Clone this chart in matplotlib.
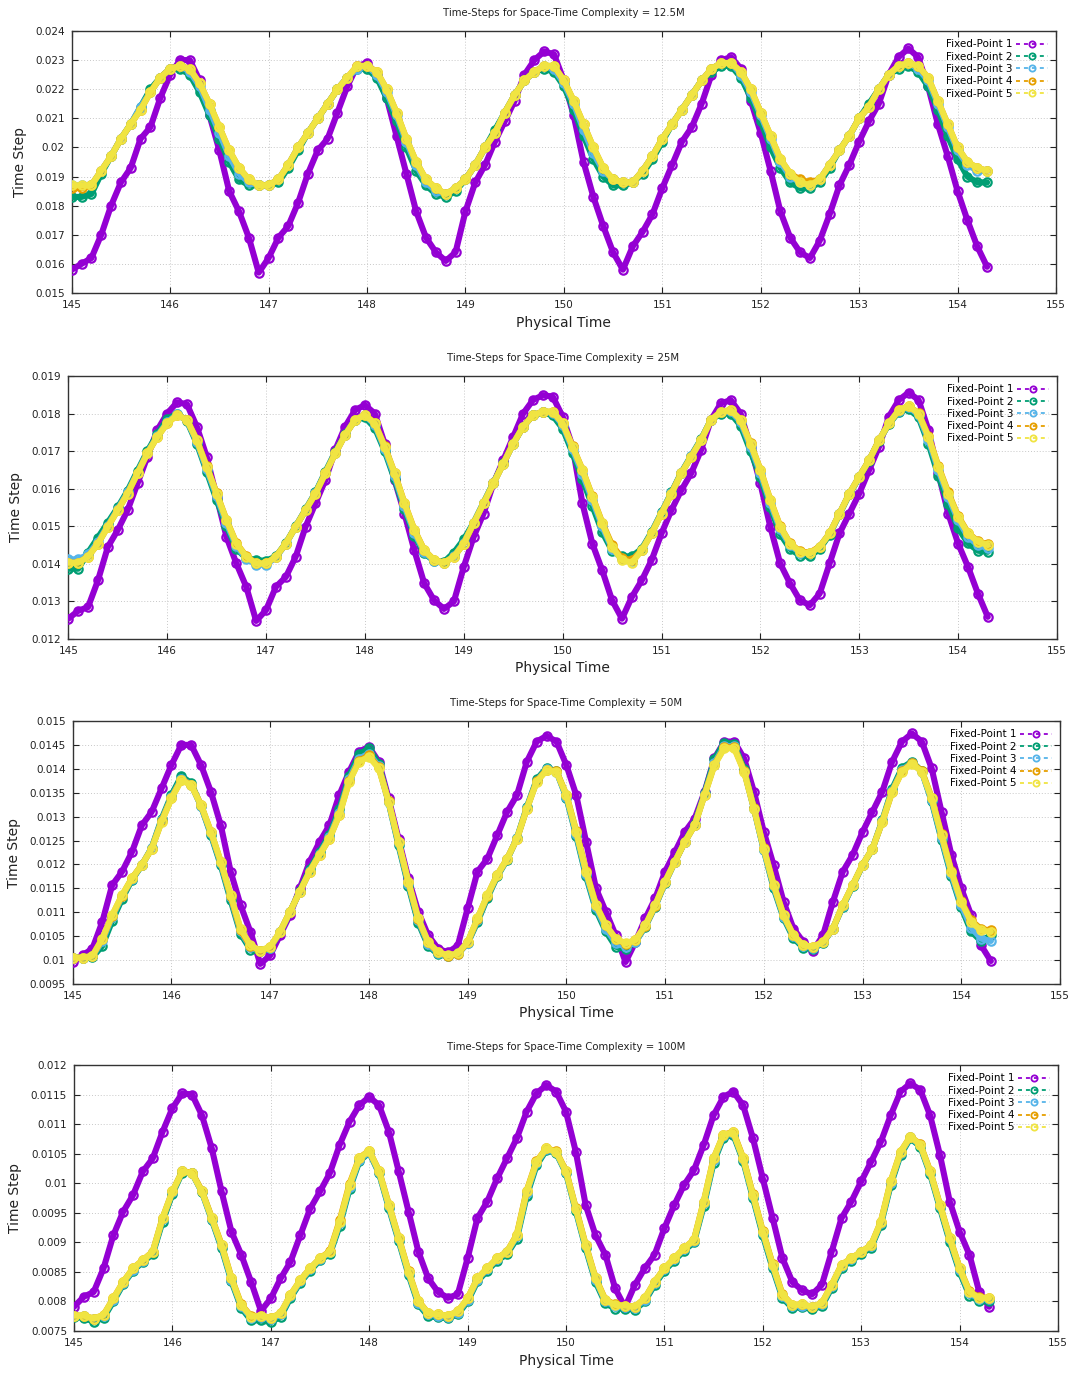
import matplotlib
matplotlib.use("Agg")
import matplotlib.pyplot as plt
from matplotlib.lines import Line2D
from matplotlib.ticker import FuncFormatter, MultipleLocator

# ---------------- data ----------------
TIME = [
    145.0, 145.1, 145.2, 145.3, 145.4, 145.5, 145.6, 145.7, 145.8, 145.9,
    146.0, 146.1, 146.2, 146.3, 146.4, 146.5, 146.6, 146.7, 146.8, 146.9,
    147.0, 147.1, 147.2, 147.3, 147.4, 147.5, 147.6, 147.7, 147.8, 147.9,
    148.0, 148.1, 148.2, 148.3, 148.4, 148.5, 148.6, 148.7, 148.8, 148.9,
    149.0, 149.1, 149.2, 149.3, 149.4, 149.5, 149.6, 149.7, 149.8, 149.9,
    150.0, 150.1, 150.2, 150.3, 150.4, 150.5, 150.6, 150.7, 150.8, 150.9,
    151.0, 151.1, 151.2, 151.3, 151.4, 151.5, 151.6, 151.7, 151.8, 151.9,
    152.0, 152.1, 152.2, 152.3, 152.4, 152.5, 152.6, 152.7, 152.8, 152.9,
    153.0, 153.1, 153.2, 153.3, 153.4, 153.5, 153.6, 153.7, 153.8, 153.9,
    154.0, 154.1, 154.2, 154.3,
]

SERIES_LABELS = ["Fixed-Point 1", "Fixed-Point 2", "Fixed-Point 3", "Fixed-Point 4", "Fixed-Point 5"]
PANEL_TITLES = [
    "Time-Steps for Space-Time Complexity = 12.5M",
    "Time-Steps for Space-Time Complexity = 25M",
    "Time-Steps for Space-Time Complexity = 50M",
    "Time-Steps for Space-Time Complexity = 100M",
]
X_TICKS = [145, 146, 147, 148, 149, 150, 151, 152, 153, 154, 155]

# ---- 12.5M ----
C12_FP1 = [
    0.0158, 0.0160, 0.0162, 0.0170, 0.0180, 0.0188, 0.0193, 0.0203, 0.0207, 0.0217,
    0.0225, 0.0230, 0.0230, 0.0223, 0.0211, 0.0199, 0.0185, 0.0178, 0.0169, 0.0157,
    0.0162, 0.0169, 0.0173, 0.0181, 0.0191, 0.0199, 0.0203, 0.0212, 0.0221, 0.0228,
    0.0229, 0.0225, 0.0217, 0.0204, 0.0191, 0.0178, 0.0169, 0.0164, 0.0161, 0.0164,
    0.0178, 0.0188, 0.0194, 0.0202, 0.0209, 0.0216, 0.0225, 0.0230, 0.0233, 0.0232,
    0.0223, 0.0211, 0.0195, 0.0183, 0.0173, 0.0164, 0.0158, 0.0166, 0.0171, 0.0177,
    0.0186, 0.0194, 0.0202, 0.0207, 0.0215, 0.0225, 0.0230, 0.0231, 0.0227, 0.0216,
    0.0205, 0.0192, 0.0178, 0.0169, 0.0164, 0.0162, 0.0168, 0.0177, 0.0187, 0.0194,
    0.0202, 0.0209, 0.0215, 0.0225, 0.0231, 0.0234, 0.0231, 0.0221, 0.0208, 0.0197,
    0.0185, 0.0175, 0.0166, 0.0159,
]
C12_FP2 = [
    0.0183, 0.0183, 0.0184, 0.0191, 0.0197, 0.0203, 0.0208, 0.0214, 0.0220, 0.0224,
    0.0227, 0.0227, 0.0225, 0.0219, 0.0211, 0.0203, 0.0195, 0.0189, 0.0187, 0.0187,
    0.0187, 0.0188, 0.0193, 0.0199, 0.0205, 0.0210, 0.0215, 0.0220, 0.0224, 0.0227,
    0.0227, 0.0224, 0.0217, 0.0209, 0.0200, 0.0192, 0.0187, 0.0184, 0.0183, 0.0185,
    0.0189, 0.0194, 0.0200, 0.0206, 0.0212, 0.0218, 0.0223, 0.0226, 0.0227, 0.0226,
    0.0221, 0.0213, 0.0204, 0.0196, 0.0190, 0.0187, 0.0187, 0.0188, 0.0191, 0.0196,
    0.0202, 0.0208, 0.0213, 0.0218, 0.0223, 0.0226, 0.0228, 0.0228, 0.0224, 0.0217,
    0.0209, 0.0200, 0.0193, 0.0188, 0.0186, 0.0186, 0.0188, 0.0193, 0.0199, 0.0204,
    0.0210, 0.0215, 0.0220, 0.0225, 0.0227, 0.0228, 0.0226, 0.0221, 0.0213, 0.0204,
    0.0196, 0.0190, 0.0188, 0.0188,
]
C12_FP3 = [
    0.0187, 0.0187, 0.0187, 0.0192, 0.0197, 0.0203, 0.0208, 0.0214, 0.0219, 0.0224,
    0.0227, 0.0228, 0.0226, 0.0221, 0.0213, 0.0205, 0.0197, 0.0191, 0.0188, 0.0187,
    0.0187, 0.0189, 0.0194, 0.0200, 0.0205, 0.0210, 0.0215, 0.0220, 0.0224, 0.0227,
    0.0228, 0.0225, 0.0219, 0.0211, 0.0202, 0.0194, 0.0188, 0.0185, 0.0184, 0.0186,
    0.0189, 0.0194, 0.0200, 0.0205, 0.0212, 0.0218, 0.0223, 0.0226, 0.0228, 0.0227,
    0.0222, 0.0215, 0.0206, 0.0198, 0.0192, 0.0189, 0.0188, 0.0188, 0.0192, 0.0197,
    0.0203, 0.0208, 0.0213, 0.0218, 0.0223, 0.0227, 0.0229, 0.0229, 0.0225, 0.0219,
    0.0211, 0.0203, 0.0195, 0.0190, 0.0188, 0.0187, 0.0189, 0.0194, 0.0199, 0.0204,
    0.0210, 0.0214, 0.0220, 0.0225, 0.0228, 0.0229, 0.0227, 0.0223, 0.0215, 0.0207,
    0.0199, 0.0194, 0.0192, 0.0192,
]
C12_FP4 = [
    0.0186, 0.0186, 0.0187, 0.0192, 0.0197, 0.0203, 0.0208, 0.0213, 0.0219, 0.0224,
    0.0227, 0.0228, 0.0227, 0.0222, 0.0215, 0.0207, 0.0199, 0.0193, 0.0189, 0.0187,
    0.0187, 0.0189, 0.0194, 0.0200, 0.0205, 0.0210, 0.0215, 0.0220, 0.0224, 0.0228,
    0.0228, 0.0226, 0.0220, 0.0212, 0.0203, 0.0195, 0.0189, 0.0186, 0.0184, 0.0186,
    0.0189, 0.0194, 0.0200, 0.0205, 0.0212, 0.0218, 0.0223, 0.0226, 0.0228, 0.0228,
    0.0223, 0.0216, 0.0208, 0.0200, 0.0193, 0.0189, 0.0188, 0.0188, 0.0192, 0.0197,
    0.0203, 0.0208, 0.0213, 0.0218, 0.0223, 0.0227, 0.0229, 0.0229, 0.0226, 0.0220,
    0.0212, 0.0204, 0.0196, 0.0191, 0.0189, 0.0188, 0.0189, 0.0194, 0.0199, 0.0204,
    0.0210, 0.0214, 0.0220, 0.0225, 0.0228, 0.0229, 0.0228, 0.0224, 0.0216, 0.0208,
    0.0200, 0.0195, 0.0193, 0.0192,
]
C12_FP5 = [
    0.0187, 0.0187, 0.0187, 0.0192, 0.0197, 0.0203, 0.0208, 0.0213, 0.0219, 0.0224,
    0.0227, 0.0228, 0.0227, 0.0222, 0.0215, 0.0207, 0.0199, 0.0193, 0.0189, 0.0187,
    0.0187, 0.0189, 0.0194, 0.0200, 0.0205, 0.0210, 0.0215, 0.0220, 0.0224, 0.0228,
    0.0228, 0.0226, 0.0220, 0.0212, 0.0203, 0.0195, 0.0189, 0.0186, 0.0184, 0.0186,
    0.0189, 0.0194, 0.0200, 0.0205, 0.0212, 0.0218, 0.0223, 0.0226, 0.0228, 0.0228,
    0.0223, 0.0216, 0.0208, 0.0200, 0.0193, 0.0189, 0.0188, 0.0188, 0.0192, 0.0197,
    0.0203, 0.0208, 0.0213, 0.0218, 0.0223, 0.0227, 0.0229, 0.0229, 0.0226, 0.0220,
    0.0212, 0.0204, 0.0196, 0.0191, 0.0188, 0.0187, 0.0189, 0.0194, 0.0199, 0.0204,
    0.0210, 0.0214, 0.0220, 0.0225, 0.0228, 0.0229, 0.0228, 0.0224, 0.0216, 0.0208,
    0.0200, 0.0195, 0.0193, 0.0192,
]

# ---- 25M ----
C25_FP1 = [
    0.01254, 0.01275, 0.01285, 0.01356, 0.01445, 0.01490, 0.01543, 0.01614, 0.01685, 0.01756,
    0.01800, 0.01830, 0.01825, 0.01765, 0.01685, 0.01579, 0.01472, 0.01401, 0.01339, 0.01248,
    0.01277, 0.01339, 0.01365, 0.01419, 0.01499, 0.01561, 0.01623, 0.01703, 0.01765, 0.01809,
    0.01823, 0.01800, 0.01720, 0.01623, 0.01534, 0.01436, 0.01348, 0.01303, 0.01280, 0.01300,
    0.01392, 0.01472, 0.01534, 0.01614, 0.01676, 0.01738, 0.01800, 0.01836, 0.01849, 0.01845,
    0.01792, 0.01712, 0.01561, 0.01454, 0.01383, 0.01303, 0.01254, 0.01312, 0.01356, 0.01410,
    0.01481, 0.01543, 0.01596, 0.01641, 0.01703, 0.01783, 0.01827, 0.01836, 0.01800, 0.01712,
    0.01614, 0.01499, 0.01401, 0.01348, 0.01303, 0.01290, 0.01321, 0.01401, 0.01481, 0.01534,
    0.01587, 0.01650, 0.01712, 0.01792, 0.01836, 0.01856, 0.01836, 0.01756, 0.01641, 0.01534,
    0.01454, 0.01392, 0.01321, 0.01259,
]
C25_FP2 = [
    0.01387, 0.01387, 0.01430, 0.01470, 0.01510, 0.01550, 0.01595, 0.01648, 0.01700, 0.01745,
    0.01785, 0.01800, 0.01780, 0.01720, 0.01645, 0.01570, 0.01500, 0.01440, 0.01415, 0.01410,
    0.01408, 0.01420, 0.01455, 0.01500, 0.01545, 0.01590, 0.01645, 0.01698, 0.01745, 0.01783,
    0.01790, 0.01762, 0.01700, 0.01625, 0.01545, 0.01475, 0.01428, 0.01408, 0.01405, 0.01430,
    0.01465, 0.01510, 0.01563, 0.01616, 0.01668, 0.01720, 0.01765, 0.01796, 0.01803, 0.01795,
    0.01760, 0.01695, 0.01625, 0.01555, 0.01485, 0.01435, 0.01420, 0.01420, 0.01440, 0.01485,
    0.01537, 0.01590, 0.01643, 0.01688, 0.01732, 0.01783, 0.01800, 0.01800, 0.01768, 0.01700,
    0.01630, 0.01550, 0.01480, 0.01440, 0.01422, 0.01420, 0.01440, 0.01478, 0.01532, 0.01585,
    0.01630, 0.01675, 0.01728, 0.01772, 0.01805, 0.01812, 0.01790, 0.01720, 0.01635, 0.01560,
    0.01495, 0.01455, 0.01435, 0.01432,
]
C25_FP3 = [
    0.01412, 0.01412, 0.01425, 0.01458, 0.01502, 0.01546, 0.01590, 0.01643, 0.01696, 0.01740,
    0.01777, 0.01798, 0.01782, 0.01725, 0.01652, 0.01580, 0.01508, 0.01448, 0.01414, 0.01398,
    0.01398, 0.01417, 0.01453, 0.01499, 0.01543, 0.01588, 0.01642, 0.01695, 0.01744, 0.01784,
    0.01795, 0.01770, 0.01706, 0.01633, 0.01553, 0.01483, 0.01432, 0.01408, 0.01403, 0.01420,
    0.01456, 0.01509, 0.01562, 0.01615, 0.01667, 0.01720, 0.01765, 0.01796, 0.01805, 0.01802,
    0.01770, 0.01705, 0.01640, 0.01570, 0.01500, 0.01440, 0.01412, 0.01408, 0.01437, 0.01482,
    0.01535, 0.01588, 0.01641, 0.01686, 0.01730, 0.01783, 0.01804, 0.01806, 0.01778, 0.01712,
    0.01642, 0.01562, 0.01492, 0.01450, 0.01430, 0.01428, 0.01445, 0.01481, 0.01534, 0.01587,
    0.01632, 0.01676, 0.01729, 0.01774, 0.01808, 0.01818, 0.01796, 0.01730, 0.01650, 0.01578,
    0.01517, 0.01472, 0.01450, 0.01442,
]
C25_FP4 = [
    0.01403, 0.01403, 0.01419, 0.01454, 0.01499, 0.01543, 0.01587, 0.01641, 0.01694, 0.01738,
    0.01774, 0.01796, 0.01784, 0.01730, 0.01660, 0.01588, 0.01517, 0.01455, 0.01420, 0.01402,
    0.01401, 0.01419, 0.01454, 0.01499, 0.01543, 0.01587, 0.01641, 0.01694, 0.01743, 0.01783,
    0.01796, 0.01775, 0.01713, 0.01642, 0.01562, 0.01491, 0.01437, 0.01410, 0.01403, 0.01419,
    0.01454, 0.01508, 0.01561, 0.01614, 0.01667, 0.01720, 0.01765, 0.01796, 0.01805, 0.01805,
    0.01775, 0.01713, 0.01651, 0.01580, 0.01510, 0.01450, 0.01415, 0.01410, 0.01436, 0.01481,
    0.01534, 0.01587, 0.01641, 0.01685, 0.01729, 0.01783, 0.01805, 0.01809, 0.01784, 0.01721,
    0.01651, 0.01571, 0.01500, 0.01455, 0.01433, 0.01430, 0.01446, 0.01481, 0.01534, 0.01587,
    0.01632, 0.01676, 0.01729, 0.01774, 0.01809, 0.01820, 0.01801, 0.01740, 0.01660, 0.01590,
    0.01527, 0.01483, 0.01460, 0.01452,
]
C25_FP5 = [
    0.01403, 0.01403, 0.01419, 0.01454, 0.01499, 0.01543, 0.01587, 0.01641, 0.01694, 0.01738,
    0.01774, 0.01796, 0.01783, 0.01729, 0.01658, 0.01587, 0.01516, 0.01454, 0.01419, 0.01401,
    0.01401, 0.01419, 0.01454, 0.01499, 0.01543, 0.01587, 0.01641, 0.01694, 0.01743, 0.01783,
    0.01796, 0.01774, 0.01712, 0.01641, 0.01561, 0.01490, 0.01436, 0.01410, 0.01403, 0.01419,
    0.01454, 0.01508, 0.01561, 0.01614, 0.01667, 0.01720, 0.01765, 0.01796, 0.01805, 0.01805,
    0.01774, 0.01712, 0.01650, 0.01579, 0.01508, 0.01445, 0.01410, 0.01403, 0.01436, 0.01481,
    0.01534, 0.01587, 0.01641, 0.01685, 0.01729, 0.01783, 0.01805, 0.01809, 0.01783, 0.01720,
    0.01650, 0.01570, 0.01499, 0.01454, 0.01432, 0.01428, 0.01445, 0.01481, 0.01534, 0.01587,
    0.01632, 0.01676, 0.01729, 0.01774, 0.01809, 0.01820, 0.01800, 0.01738, 0.01658, 0.01587,
    0.01525, 0.01481, 0.01459, 0.01450,
]

# ---- 50M ----
C50_FP1 = [
    0.00996, 0.01010, 0.01024, 0.01080, 0.01157, 0.01185, 0.01226, 0.01282, 0.01310, 0.01359,
    0.01408, 0.01450, 0.01450, 0.01408, 0.01352, 0.01282, 0.01185, 0.01115, 0.01059, 0.00992,
    0.01010, 0.01052, 0.01094, 0.01150, 0.01206, 0.01247, 0.01282, 0.01345, 0.01394, 0.01436,
    0.01446, 0.01415, 0.01338, 0.01254, 0.01171, 0.01101, 0.01052, 0.01024, 0.01016, 0.01030,
    0.01108, 0.01185, 0.01212, 0.01261, 0.01310, 0.01345, 0.01415, 0.01457, 0.01469, 0.01457,
    0.01408, 0.01345, 0.01247, 0.01150, 0.01101, 0.01052, 0.00996, 0.01038, 0.01087, 0.01129,
    0.01185, 0.01226, 0.01268, 0.01296, 0.01352, 0.01422, 0.01457, 0.01457, 0.01422, 0.01352,
    0.01268, 0.01198, 0.01122, 0.01066, 0.01038, 0.01020, 0.01052, 0.01122, 0.01185, 0.01220,
    0.01268, 0.01310, 0.01352, 0.01415, 0.01457, 0.01474, 0.01457, 0.01401, 0.01310, 0.01220,
    0.01150, 0.01094, 0.01031, 0.00998,
]
C50_FP2 = [
    0.01005, 0.01005, 0.01006, 0.01030, 0.01082, 0.01128, 0.01168, 0.01198, 0.01235, 0.01295,
    0.01345, 0.01385, 0.01370, 0.01322, 0.01262, 0.01198, 0.01125, 0.01055, 0.01022, 0.01018,
    0.01026, 0.01058, 0.01100, 0.01145, 0.01190, 0.01226, 0.01262, 0.01315, 0.01385, 0.01430,
    0.01443, 0.01410, 0.01330, 0.01240, 0.01155, 0.01078, 0.01030, 0.01012, 0.01008, 0.01014,
    0.01035, 0.01080, 0.01130, 0.01175, 0.01210, 0.01255, 0.01320, 0.01378, 0.01402, 0.01395,
    0.01340, 0.01260, 0.01175, 0.01105, 0.01060, 0.01028, 0.01024, 0.01038, 0.01070, 0.01112,
    0.01162, 0.01206, 0.01248, 0.01285, 0.01350, 0.01420, 0.01455, 0.01452, 0.01400, 0.01318,
    0.01230, 0.01150, 0.01088, 0.01046, 0.01026, 0.01024, 0.01036, 0.01066, 0.01112, 0.01155,
    0.01198, 0.01232, 0.01292, 0.01358, 0.01402, 0.01415, 0.01395, 0.01332, 0.01252, 0.01175,
    0.01110, 0.01060, 0.01040, 0.01052,
]
C50_FP3 = [
    0.01005, 0.01005, 0.01008, 0.01040, 0.01090, 0.01133, 0.01170, 0.01199, 0.01234, 0.01292,
    0.01341, 0.01379, 0.01367, 0.01322, 0.01265, 0.01202, 0.01131, 0.01060, 0.01027, 0.01018,
    0.01026, 0.01058, 0.01100, 0.01143, 0.01186, 0.01222, 0.01257, 0.01308, 0.01378, 0.01421,
    0.01432, 0.01405, 0.01330, 0.01244, 0.01160, 0.01083, 0.01034, 0.01014, 0.01008, 0.01012,
    0.01036, 0.01084, 0.01134, 0.01177, 0.01211, 0.01255, 0.01318, 0.01375, 0.01399, 0.01394,
    0.01342, 0.01264, 0.01180, 0.01110, 0.01066, 0.01036, 0.01028, 0.01038, 0.01071, 0.01113,
    0.01163, 0.01206, 0.01247, 0.01283, 0.01347, 0.01412, 0.01448, 0.01447, 0.01396, 0.01316,
    0.01231, 0.01154, 0.01091, 0.01050, 0.01029, 0.01026, 0.01037, 0.01066, 0.01114, 0.01156,
    0.01199, 0.01233, 0.01290, 0.01354, 0.01397, 0.01413, 0.01394, 0.01335, 0.01256, 0.01180,
    0.01115, 0.01068, 0.01045, 0.01040,
]
C50_FP4 = [
    0.01005, 0.01005, 0.01009, 0.01044, 0.01093, 0.01135, 0.01171, 0.01199, 0.01233, 0.01290,
    0.01339, 0.01377, 0.01367, 0.01324, 0.01268, 0.01205, 0.01134, 0.01063, 0.01029, 0.01019,
    0.01027, 0.01059, 0.01101, 0.01143, 0.01185, 0.01220, 0.01254, 0.01304, 0.01374, 0.01417,
    0.01428, 0.01403, 0.01332, 0.01247, 0.01163, 0.01086, 0.01037, 0.01016, 0.01009, 0.01013,
    0.01037, 0.01086, 0.01135, 0.01178, 0.01212, 0.01254, 0.01317, 0.01374, 0.01398, 0.01395,
    0.01346, 0.01270, 0.01187, 0.01116, 0.01073, 0.01044, 0.01034, 0.01041, 0.01072, 0.01114,
    0.01164, 0.01206, 0.01247, 0.01282, 0.01346, 0.01409, 0.01445, 0.01445, 0.01396, 0.01318,
    0.01234, 0.01158, 0.01094, 0.01052, 0.01031, 0.01028, 0.01038, 0.01066, 0.01115, 0.01157,
    0.01199, 0.01233, 0.01289, 0.01352, 0.01395, 0.01412, 0.01396, 0.01340, 0.01263, 0.01187,
    0.01124, 0.01083, 0.01065, 0.01062,
]
C50_FP5 = [
    0.01005, 0.01005, 0.01009, 0.01045, 0.01094, 0.01136, 0.01171, 0.01199, 0.01233, 0.01289,
    0.01338, 0.01376, 0.01366, 0.01324, 0.01268, 0.01206, 0.01136, 0.01066, 0.01031, 0.01020,
    0.01028, 0.01059, 0.01101, 0.01143, 0.01185, 0.01220, 0.01254, 0.01303, 0.01373, 0.01415,
    0.01425, 0.01401, 0.01331, 0.01247, 0.01164, 0.01087, 0.01038, 0.01017, 0.01010, 0.01014,
    0.01038, 0.01087, 0.01136, 0.01178, 0.01212, 0.01254, 0.01317, 0.01373, 0.01397, 0.01394,
    0.01345, 0.01268, 0.01185, 0.01115, 0.01073, 0.01045, 0.01035, 0.01042, 0.01073, 0.01115,
    0.01164, 0.01206, 0.01247, 0.01282, 0.01345, 0.01408, 0.01443, 0.01443, 0.01394, 0.01317,
    0.01233, 0.01157, 0.01094, 0.01052, 0.01031, 0.01028, 0.01038, 0.01066, 0.01115, 0.01157,
    0.01199, 0.01233, 0.01289, 0.01352, 0.01394, 0.01411, 0.01394, 0.01338, 0.01261, 0.01185,
    0.01122, 0.01080, 0.01062, 0.01059,
]

# ---- 100M ----
C100_FP1 = [
    0.00791, 0.00808, 0.00816, 0.00856, 0.00912, 0.00952, 0.00980, 0.01020, 0.01042, 0.01087,
    0.01127, 0.01152, 0.01150, 0.01115, 0.01059, 0.00986, 0.00918, 0.00879, 0.00833, 0.00784,
    0.00805, 0.00839, 0.00867, 0.00912, 0.00957, 0.00986, 0.01017, 0.01065, 0.01104, 0.01132,
    0.01146, 0.01132, 0.01087, 0.01020, 0.00952, 0.00884, 0.00839, 0.00816, 0.00806, 0.00812,
    0.00873, 0.00941, 0.00969, 0.01008, 0.01042, 0.01076, 0.01121, 0.01152, 0.01166, 0.01155,
    0.01121, 0.01053, 0.00963, 0.00912, 0.00879, 0.00822, 0.00790, 0.00828, 0.00856, 0.00879,
    0.00924, 0.00963, 0.00997, 0.01022, 0.01065, 0.01115, 0.01146, 0.01155, 0.01132, 0.01076,
    0.01008, 0.00941, 0.00873, 0.00833, 0.00819, 0.00812, 0.00828, 0.00884, 0.00941, 0.00969,
    0.01003, 0.01036, 0.01070, 0.01115, 0.01155, 0.01169, 0.01158, 0.01115, 0.01048, 0.00969,
    0.00918, 0.00879, 0.00816, 0.00791,
]
C100_FP2 = [
    0.00774, 0.00772, 0.00766, 0.00772, 0.00800, 0.00829, 0.00852, 0.00867, 0.00880, 0.00935,
    0.00982, 0.01018, 0.01017, 0.00985, 0.00938, 0.00890, 0.00834, 0.00789, 0.00768, 0.00768,
    0.00765, 0.00774, 0.00806, 0.00832, 0.00852, 0.00870, 0.00880, 0.00928, 0.00990, 0.01037,
    0.01052, 0.01017, 0.00958, 0.00902, 0.00845, 0.00795, 0.00775, 0.00773, 0.00772, 0.00778,
    0.00800, 0.00834, 0.00852, 0.00869, 0.00880, 0.00906, 0.00978, 0.01030, 0.01056, 0.01051,
    0.01017, 0.00953, 0.00890, 0.00833, 0.00797, 0.00788, 0.00788, 0.00786, 0.00800, 0.00828,
    0.00852, 0.00869, 0.00886, 0.00900, 0.00962, 0.01035, 0.01077, 0.01082, 0.01038, 0.00975,
    0.00912, 0.00856, 0.00806, 0.00789, 0.00790, 0.00787, 0.00792, 0.00823, 0.00857, 0.00869,
    0.00880, 0.00891, 0.00930, 0.00997, 0.01048, 0.01076, 0.01062, 0.01016, 0.00958, 0.00901,
    0.00850, 0.00810, 0.00801, 0.00800,
]
C100_FP3 = [
    0.00776, 0.00775, 0.00770, 0.00776, 0.00803, 0.00831, 0.00854, 0.00869, 0.00883, 0.00939,
    0.00985, 0.01020, 0.01017, 0.00986, 0.00940, 0.00893, 0.00837, 0.00792, 0.00772, 0.00774,
    0.00770, 0.00778, 0.00809, 0.00834, 0.00855, 0.00872, 0.00883, 0.00933, 0.00994, 0.01040,
    0.01053, 0.01019, 0.00961, 0.00905, 0.00848, 0.00798, 0.00778, 0.00776, 0.00774, 0.00781,
    0.00803, 0.00837, 0.00855, 0.00872, 0.00883, 0.00910, 0.00983, 0.01034, 0.01058, 0.01052,
    0.01019, 0.00956, 0.00893, 0.00837, 0.00800, 0.00792, 0.00791, 0.00789, 0.00803, 0.00831,
    0.00855, 0.00872, 0.00889, 0.00903, 0.00966, 0.01039, 0.01080, 0.01085, 0.01041, 0.00979,
    0.00916, 0.00860, 0.00809, 0.00792, 0.00793, 0.00790, 0.00795, 0.00826, 0.00860, 0.00872,
    0.00883, 0.00894, 0.00933, 0.01001, 0.01051, 0.01078, 0.01064, 0.01019, 0.00962, 0.00905,
    0.00854, 0.00814, 0.00804, 0.00804,
]
C100_FP4 = [
    0.00776, 0.00776, 0.00771, 0.00777, 0.00805, 0.00833, 0.00856, 0.00870, 0.00884, 0.00941,
    0.00986, 0.01020, 0.01018, 0.00987, 0.00942, 0.00896, 0.00840, 0.00795, 0.00775, 0.00776,
    0.00772, 0.00780, 0.00811, 0.00836, 0.00856, 0.00873, 0.00885, 0.00937, 0.00999, 0.01043,
    0.01055, 0.01021, 0.00964, 0.00908, 0.00851, 0.00801, 0.00780, 0.00778, 0.00776, 0.00783,
    0.00805, 0.00839, 0.00856, 0.00873, 0.00884, 0.00913, 0.00987, 0.01037, 0.01059, 0.01054,
    0.01021, 0.00958, 0.00896, 0.00840, 0.00803, 0.00795, 0.00793, 0.00791, 0.00805, 0.00833,
    0.00856, 0.00873, 0.00890, 0.00904, 0.00969, 0.01042, 0.01082, 0.01087, 0.01043, 0.00981,
    0.00919, 0.00863, 0.00812, 0.00794, 0.00795, 0.00791, 0.00797, 0.00828, 0.00862, 0.00873,
    0.00884, 0.00895, 0.00935, 0.01003, 0.01053, 0.01079, 0.01066, 0.01021, 0.00964, 0.00908,
    0.00857, 0.00817, 0.00807, 0.00806,
]
C100_FP5 = [
    0.00776, 0.00776, 0.00771, 0.00777, 0.00805, 0.00833, 0.00856, 0.00870, 0.00884, 0.00941,
    0.00986, 0.01020, 0.01017, 0.00986, 0.00941, 0.00895, 0.00839, 0.00794, 0.00774, 0.00776,
    0.00772, 0.00780, 0.00811, 0.00836, 0.00856, 0.00873, 0.00884, 0.00935, 0.00997, 0.01042,
    0.01055, 0.01020, 0.00963, 0.00907, 0.00850, 0.00800, 0.00780, 0.00778, 0.00776, 0.00783,
    0.00805, 0.00839, 0.00856, 0.00873, 0.00884, 0.00912, 0.00986, 0.01036, 0.01059, 0.01053,
    0.01020, 0.00957, 0.00895, 0.00839, 0.00802, 0.00794, 0.00793, 0.00791, 0.00805, 0.00833,
    0.00856, 0.00873, 0.00890, 0.00904, 0.00969, 0.01042, 0.01082, 0.01086, 0.01042, 0.00980,
    0.00918, 0.00862, 0.00811, 0.00794, 0.00795, 0.00791, 0.00797, 0.00828, 0.00862, 0.00873,
    0.00884, 0.00895, 0.00935, 0.01003, 0.01053, 0.01079, 0.01065, 0.01020, 0.00963, 0.00907,
    0.00856, 0.00816, 0.00806, 0.00806,
]

Y_LIMITS = [(0.015, 0.024), (0.012, 0.019), (0.0095, 0.015), (0.0075, 0.012)]
Y_STEPS = [0.001, 0.001, 0.0005, 0.0005]

# ---------------- styling ----------------
COLORS = ["#9400D3", "#009E73", "#56B4E9", "#E69F00", "#F0E442"]
W, H = 1074, 1374
# axes boxes in pixels: left, right, top, bottom
BOXES = [
    (71.7, 1056.0, 31.0, 293.0),
    (68.3, 1057.0, 376.0, 639.0),
    (72.7, 1060.0, 721.0, 984.0),
    (74.0, 1058.0, 1065.0, 1331.0),
]

panels = [
    [C12_FP1, C12_FP2, C12_FP3, C12_FP4, C12_FP5],
    [C25_FP1, C25_FP2, C25_FP3, C25_FP4, C25_FP5],
    [C50_FP1, C50_FP2, C50_FP3, C50_FP4, C50_FP5],
    [C100_FP1, C100_FP2, C100_FP3, C100_FP4, C100_FP5],
]

fig = plt.figure(figsize=(W / 100, H / 100), dpi=100)
fmt = FuncFormatter(lambda v, p: "%g" % round(v, 6))

for i, series in enumerate(panels):
    l, r, t, b = BOXES[i]
    ax = fig.add_axes([l / W, 1 - b / H, (r - l) / W, (b - t) / H])
    for k, ys in enumerate(series):
        n = min(len(TIME), len(ys))
        ax.plot(TIME[:n], ys[:n], color=COLORS[k], lw=4.4, solid_capstyle="round",
                solid_joinstyle="round",
                marker="o", ms=6.0, mfc="none", mew=1.6, zorder=3 + k)
    ax.set_xlim(145, 155)
    ax.set_ylim(*Y_LIMITS[i])
    ax.set_xticks(X_TICKS)
    ax.yaxis.set_major_locator(MultipleLocator(Y_STEPS[i]))
    ax.yaxis.set_major_formatter(fmt)
    ax.tick_params(direction="in", length=4, width=0.8, top=True, right=True,
                   labelsize=7.5, colors="#222222", pad=5)
    ax.grid(True, color="#c8c8c8", ls=(0, (1, 2)), lw=0.7)
    for s in ax.spines.values():
        s.set_linewidth(1.0)
        s.set_color("#333333")
    ax.set_xlabel("Physical Time", fontsize=10, labelpad=4, color="#222222")
    ax.set_ylabel("Time Step", fontsize=10, labelpad=6, color="#222222")
    ax.set_title(PANEL_TITLES[i], fontsize=7.3, pad=11, color="#222222")

    handles = [Line2D([0], [0], color=COLORS[k], lw=1.3, ls=(0, (2.2, 2.2)),
                      marker="o", ms=4.5, mfc="none", mew=1.3)
               for k in range(5)]
    leg = ax.legend(handles, SERIES_LABELS, loc="upper right", frameon=False,
                    markerfirst=False, numpoints=1, fontsize=7.5, handlelength=3.0,
                    handletextpad=0.4, labelspacing=0.22, borderaxespad=0.4)
    leg.set_zorder(20)

fig.savefig("out.png", dpi=100)
